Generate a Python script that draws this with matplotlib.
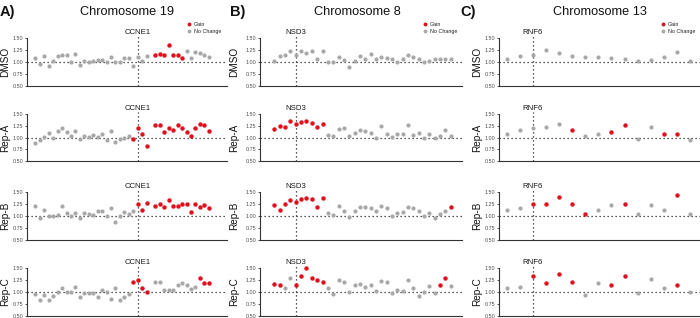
import matplotlib
matplotlib.use('Agg')
import matplotlib.pyplot as plt
from matplotlib.lines import Line2D

plt.rcParams['font.family'] = ['Liberation Sans', 'DejaVu Sans']

# ---------------- data ----------------
replicates = ['DMSO', 'Rep-A', 'Rep-B', 'Rep-C']
titles = ['Chromosome 19', 'Chromosome 8', 'Chromosome 13']
panel_tags = ['A)', 'B)', 'C)']
genes = ['CCNE1', 'NSD3', 'RNF6']
gene_pos = [23, 4, 2]

# Chromosome 19 (gene index positions)
chr19_x = list(range(0, 26)) + list(range(27, 40))
chr19_dmso = [1.08, 0.95, 1.12, 0.92, 1.02, 1.12, 1.15, 1.14, 1.00, 1.16, 0.93, 1.03, 1.00,
              1.02, 1.05, 1.05, 1.01, 1.10, 1.01, 1.01, 1.08, 1.09, 0.92, 1.10, 1.03, 1.12,
              1.15, 1.16, 1.15, 1.35, 1.15, 1.14, 1.09, 1.23, 1.09, 1.20, 1.19, 1.14, 1.10]
chr19_dmso_gain = [0] * 26 + [1] * 7 + [0] * 6
chr19_repa = [0.89, 0.95, 1.02, 1.09, 0.99, 1.13, 1.20, 1.11, 1.04, 1.14, 0.96, 1.04, 1.01,
              1.06, 1.01, 1.08, 0.95, 1.14, 0.91, 0.96, 1.00, 1.04, 0.96, 1.20, 1.07, 0.82,
              1.26, 1.26, 1.11, 1.21, 1.16, 1.26, 1.20, 1.11, 1.04, 1.21, 1.29, 1.26, 1.13]
chr19_repa_gain = [0] * 22 + [1] * 17
chr19_repb = [1.21, 0.96, 1.12, 1.00, 0.99, 1.02, 1.21, 1.07, 1.01, 1.07, 0.95, 1.07, 1.04,
              1.02, 1.11, 1.11, 0.99, 1.17, 0.88, 0.99, 1.08, 1.04, 1.11, 1.24, 1.13, 1.28,
              1.21, 1.26, 1.18, 1.33, 1.21, 1.21, 1.24, 1.26, 1.08, 1.26, 1.18, 1.22, 1.17]
chr19_repb_gain = [0] * 23 + [1] * 16
chr19_repc = [0.95, 0.83, 0.93, 0.83, 0.91, 0.99, 1.09, 1.00, 0.99, 1.11, 0.89, 0.98, 0.98,
              0.98, 0.90, 1.04, 1.00, 0.86, 1.09, 0.84, 0.89, 0.95, 1.21, 1.25, 1.08, 1.01,
              1.21, 1.21, 1.04, 1.04, 1.04, 1.14, 1.18, 1.14, 1.07, 1.11, 1.29, 1.19, 1.19]
chr19_repc_gain = [0] * 22 + [1] * 4 + [0] * 10 + [1] * 3

# Chromosome 8
chr8_x = list(range(0, 34))
chr8_dmso = [1.02, 1.13, 1.15, 1.22, 1.15, 1.23, 1.19, 1.23, 1.06, 1.23, 0.99, 0.99, 1.10,
             1.04, 0.89, 1.02, 1.13, 1.06, 1.17, 1.07, 1.11, 1.09, 1.06, 1.00, 1.06, 1.15,
             1.11, 1.06, 1.00, 1.02, 1.06, 1.06, 1.06, 1.07]
chr8_dmso_gain = [0] * 34
chr8_repa = [1.19, 1.25, 1.22, 1.36, 1.29, 1.34, 1.35, 1.31, 1.22, 1.29, 1.05, 1.04, 1.19,
             1.21, 1.04, 1.09, 1.16, 1.13, 1.09, 1.00, 1.24, 1.08, 1.02, 1.08, 1.08, 1.27,
             1.06, 1.09, 1.00, 1.07, 1.00, 1.03, 1.15, 1.03]
chr8_repa_gain = [1] * 10 + [0] * 24
chr8_repb = [1.23, 1.13, 1.25, 1.34, 1.30, 1.36, 1.37, 1.36, 1.18, 1.37, 1.07, 1.02, 1.21,
             1.11, 0.97, 1.11, 1.18, 1.18, 1.16, 1.11, 1.21, 1.16, 1.00, 1.07, 1.09, 1.18,
             1.16, 1.11, 0.99, 1.06, 0.96, 1.04, 1.11, 1.18]
chr8_repb_gain = [1] * 10 + [0] * 23 + [1]
chr8_repc = [1.16, 1.15, 1.08, 1.30, 1.15, 1.34, 1.51, 1.30, 1.26, 1.21, 1.08, 0.96, 1.26,
             1.21, 1.01, 1.15, 1.17, 1.10, 1.15, 1.03, 1.23, 1.20, 0.97, 1.05, 1.03, 1.26,
             1.09, 0.92, 0.99, 1.12, 0.97, 1.15, 1.30, 1.12]
chr8_repc_gain = [1, 1, 0, 0, 1, 1, 1, 1, 1, 1] + [0] * 21 + [1, 1, 0]

# Chromosome 13
chr13_x = list(range(0, 15))
chr13_dmso = [1.06, 1.12, 1.14, 1.26, 1.18, 1.13, 1.10, 1.11, 1.09, 1.06, 1.03, 1.05, 1.10, 1.21, 1.03]
chr13_dmso_gain = [0] * 15
chr13_repa = [1.07, 1.15, 1.21, 1.22, 1.29, 1.16, 1.04, 1.08, 1.11, 1.26, 0.96, 1.22, 1.07, 1.08, 0.94]
chr13_repa_gain = [0, 0, 0, 0, 0, 1, 0, 0, 1, 1, 0, 0, 1, 1, 0]
chr13_repb = [1.13, 1.17, 1.26, 1.26, 1.39, 1.26, 1.04, 1.12, 1.23, 1.24, 1.04, 1.22, 1.12, 1.44, 1.04]
chr13_repb_gain = [0, 0, 1, 1, 1, 1, 1, 0, 0, 1, 0, 0, 0, 1, 0]
chr13_repc = [1.08, 1.11, 1.33, 1.18, 1.38, 1.20, 0.94, 1.19, 1.15, 1.34, 0.97, 1.27, 1.08, 1.15, 1.01]
chr13_repc_gain = [0, 0, 1, 1, 1, 1, 0, 0, 1, 1, 0, 0, 0, 1, 0]

yticks = [0.50, 0.75, 1.00, 1.25, 1.50]
legend_labels = ['Gain', 'No Change']

panels = [
    (chr19_x, [(chr19_dmso, chr19_dmso_gain), (chr19_repa, chr19_repa_gain),
               (chr19_repb, chr19_repb_gain), (chr19_repc, chr19_repc_gain)]),
    (chr8_x, [(chr8_dmso, chr8_dmso_gain), (chr8_repa, chr8_repa_gain),
              (chr8_repb, chr8_repb_gain), (chr8_repc, chr8_repc_gain)]),
    (chr13_x, [(chr13_dmso, chr13_dmso_gain), (chr13_repa, chr13_repa_gain),
               (chr13_repb, chr13_repb_gain), (chr13_repc, chr13_repc_gain)]),
]

# ---------------- layout (pixels) ----------------
W, H = 700, 318
RED = '#E0101E'
GREY = '#A8A8A8'
col_lr = [(27, 227), (260, 462), (499, 700)]
row_tb = [(38, 86), (114, 161), (192, 240), (268, 316)]
xlims = [(-1.9, 43.1), (-2.7, 35.1), (-0.59, 14.76)]
title_cx = [127, 357, 600]
tag_x = [0, 230, 460]
ylab_x = [5, 234, 477]
leg_dot_x = [189, 425, 663]

fig = plt.figure(figsize=(W / 100, H / 100), dpi=100)


def fx(px):
    return px / W


def fy(py):
    return 1 - py / H


for c, (xs, rows) in enumerate(panels):
    l, r = col_lr[c]
    for rr, (vals, gain) in enumerate(rows):
        t, b = row_tb[rr]
        ax = fig.add_axes([fx(l), fy(b), fx(r - l), (b - t) / H])
        ax.set_xlim(*xlims[c])
        ax.set_ylim(0.5, 1.5)
        gx = [x for x, g in zip(xs, gain) if not g]
        gy = [v for v, g in zip(vals, gain) if not g]
        rx = [x for x, g in zip(xs, gain) if g]
        ry = [v for v, g in zip(vals, gain) if g]
        ax.axhline(1.0, color='#222222', lw=0.9, ls=(0, (1, 2.2)), zorder=1)
        ax.axvline(gene_pos[c], ymin=0, ymax=1.05, color='#222222', lw=0.9,
                   ls=(0, (1, 2.2)), zorder=1, clip_on=False)
        ax.plot(gx, gy, 'o', color=GREY, ms=3.0, mew=0, zorder=3, clip_on=False)
        ax.plot(rx, ry, 'o', color=RED, ms=3.2, mew=0, zorder=4, clip_on=False)
        ax.annotate(genes[c], xy=(gene_pos[c], 1.0), xycoords=('data', 'axes fraction'),
                    xytext=(0, 4.2), textcoords='offset points', ha='center', va='center',
                    fontsize=5.6, color='#1a1a1a')
        for s in ['top', 'right']:
            ax.spines[s].set_visible(False)
        for s in ['left', 'bottom']:
            ax.spines[s].set_color('#333333')
            ax.spines[s].set_linewidth(0.8)
        ax.set_xticks([])
        ax.set_yticks(yticks)
        ax.set_yticklabels(['%.2f' % v for v in yticks])
        ax.tick_params(axis='y', length=1.6, width=0.6, pad=1.2, labelsize=3.9,
                       colors='#333333', labelcolor='#4D4D4D')
        ax.patch.set_alpha(0)
        fig.text(fx(ylab_x[c]), fy((t + b) / 2), replicates[rr], rotation=90,
                 ha='center', va='center', fontsize=7.2, color='#111111')

    fig.text(fx(title_cx[c]), fy(12), titles[c], ha='center', va='center',
             fontsize=9.2, color='#111111')
    fig.text(fx(tag_x[c]), fy(12), panel_tags[c], ha='left', va='center',
             fontsize=10.5, fontweight='bold', color='#111111')
    # legend
    for k, (lab, col) in enumerate(zip(legend_labels, [RED, GREY])):
        yy = 24 + 7 * k
        fig.add_artist(Line2D([fx(leg_dot_x[c])], [fy(yy)], marker='o', ms=2.8, mew=0,
                              color=col, transform=fig.transFigure))
        fig.text(fx(leg_dot_x[c] + 5), fy(yy), lab, ha='left', va='center',
                 fontsize=3.9, color='#222222')

fig.savefig('out.png', dpi=100)
